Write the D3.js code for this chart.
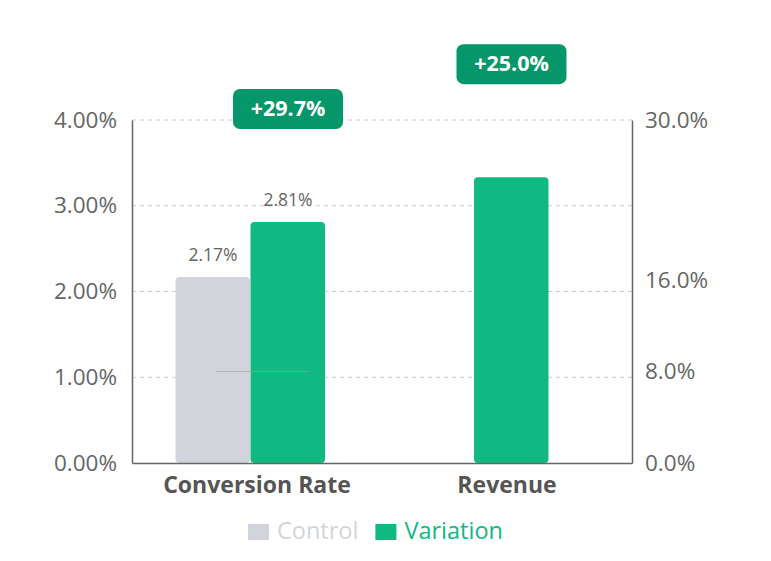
<!DOCTYPE html>
<html><head><meta charset="utf-8">
<script src="https://cdn.jsdelivr.net/npm/d3@7"></script>
<style>body{margin:0;background:#fff;font-family:"Open Sans","Noto Sans",sans-serif;}</style>
</head><body><svg id="c" width="771" height="561"></svg>
<script>
const categories = ["Conversion Rate", "Revenue"];
const seriesNames = ["Control", "Variation"];
const controlValues = [2.17, null];      // left axis (%)
const variationValues = [2.81, 25.0];    // CR on left axis (%), Revenue on right axis (%)
const controlRevenueMark = 8.0;          // right axis (%)
const lifts = ["+29.7%", "+25.0%"];
const leftTicks = [0, 1, 2, 3, 4];
const rightTicks = [0, 8, 16, 30];
const colors = {Control: "#d1d5db", Variation: "#10b981"};

const W = 771, H = 561;
const m = {l: 132, r: 139, t: 120, b: 98};
const FONT = '"Open Sans","Noto Sans",sans-serif';
const svg = d3.select("#c");
const x = d3.scaleBand().domain(categories).range([m.l, W - m.r]);
const xBar = d3.scaleBand().domain(categories).range([m.l - 12, W - m.r + 10]);
const yL = d3.scaleLinear().domain([0, 4]).range([H - m.b, m.t]);
const yR = d3.scaleLinear().domain([0, 30]).range([H - m.b, m.t]);
const bw = 75;

// grid
svg.append("g").selectAll("line").data(leftTicks.slice(1)).join("line")
  .attr("x1", m.l).attr("x2", W - m.r)
  .attr("y1", d => yL(d)).attr("y2", d => yL(d))
  .attr("stroke", "#ccc").attr("stroke-dasharray", "4,4");

// bars
const bars = [];
categories.forEach((c, i) => {
  const items = [];
  if (controlValues[i] != null) items.push({s: "Control", v: controlValues[i], y: yL});
  if (variationValues[i] != null) items.push({s: "Variation", v: variationValues[i], y: i === 0 ? yL : yR});
  const cx = xBar(c) + xBar.bandwidth() / 2;
  const start = cx - items.length * bw / 2;
  items.forEach((it, k) => bars.push({...it, c, i, x0: start + k * bw}));
});
svg.append("g").selectAll("rect").data(bars).join("rect")
  .attr("x", d => d.x0).attr("width", d => bw - 0.5)
  .attr("y", d => d.y(d.v)).attr("height", d => d.y(0) - d.y(d.v))
  .attr("rx", 4).attr("fill", d => colors[d.s]);

// faint control revenue mark
const cr0 = xBar(categories[0]) + xBar.bandwidth() / 2;
svg.append("line").attr("x1", cr0 - 35).attr("x2", cr0 + 58)
  .attr("y1", yR(controlRevenueMark)).attr("y2", yR(controlRevenueMark))
  .attr("stroke", "#9aa8a0").attr("stroke-opacity", 0.6).attr("stroke-width", 1);

// value labels for left-axis bars
svg.append("g").selectAll("text").data(bars.filter(d => d.y === yL)).join("text")
  .attr("x", d => d.x0 + bw / 2).attr("y", d => d.y(d.v) - 16)
  .attr("text-anchor", "middle").attr("font-size", 17.5).attr("fill", "#666")
  .text(d => d.v.toFixed(2) + "%");

// lift badges over variation bars
const vb = bars.filter(d => d.s === "Variation");
const bg = svg.append("g").selectAll("g").data(vb).join("g")
  .attr("transform", d => `translate(${d.x0 + bw / 2},${d.y(d.v) - 113})`);
bg.append("rect").attr("x", -55).attr("y", -20).attr("width", 110).attr("height", 40)
  .attr("rx", 7).attr("fill", "#059669");
bg.append("text").attr("text-anchor", "middle").attr("dy", 7).attr("fill", "#fff")
  .attr("font-size", 21.5).attr("font-weight", "bold").text(d => lifts[d.i]);

// axes
const axL = svg.append("g").attr("transform", `translate(${m.l},0)`)
  .call(d3.axisLeft(yL).tickValues(leftTicks).tickSize(0).tickPadding(15).tickFormat(d => d.toFixed(2) + "%"));
const axR = svg.append("g").attr("transform", `translate(${W - m.r},0)`)
  .call(d3.axisRight(yR).tickValues(rightTicks).tickSize(0).tickPadding(13).tickFormat(d => d.toFixed(1) + "%"));
const axB = svg.append("g").attr("transform", `translate(0,${H - m.b})`)
  .call(d3.axisBottom(x).tickSize(0).tickPadding(14));
[axL, axR, axB].forEach(a => {
  a.select(".domain").attr("stroke", "#666").attr("stroke-width", 1.5);
  a.selectAll("text").attr("fill", "#666").attr("font-size", 22.5).attr("font-family", FONT);
});
axB.selectAll("text").attr("font-weight", "bold").attr("font-size", 23).attr("fill", "#555");

// legend
const lg = svg.append("g").attr("transform", `translate(248,532)`);
let lx = 0;
seriesNames.forEach(s => {
  const g = lg.append("g").attr("transform", `translate(${lx},0)`);
  g.append("rect").attr("y", -8).attr("width", 21).attr("height", 16).attr("fill", colors[s]);
  const t = g.append("text").attr("x", 29).attr("dy", 6.5).attr("font-size", 23.5)
    .attr("fill", colors[s]).text(s);
  lx += 29 + t.node().getComputedTextLength() + 17;
});
</script></body></html>
